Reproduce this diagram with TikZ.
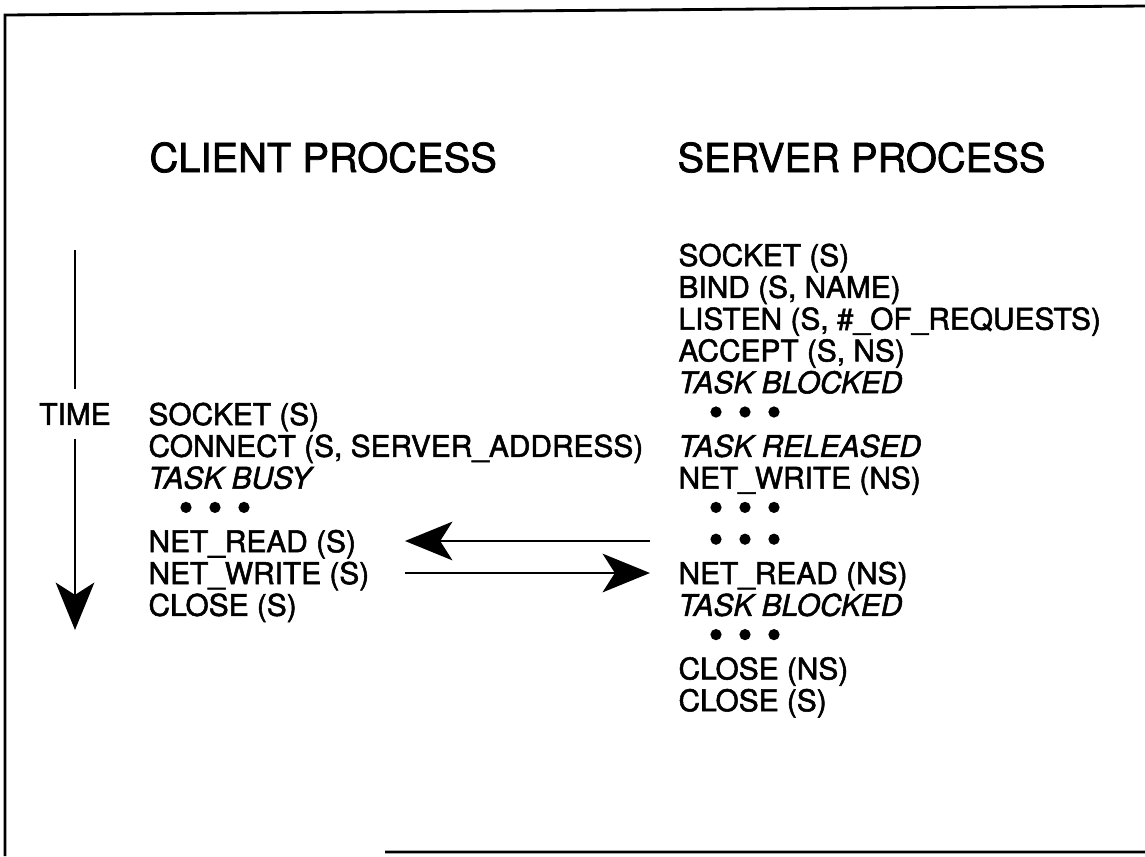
\documentclass[tikz,border=0pt]{standalone}
\usepackage{fontspec}
\setmainfont[FakeBold=1.8]{TeX Gyre Heros}
\usetikzlibrary{arrows.meta}

\begin{document}
\begin{tikzpicture}[x=0.02cm,y=-0.02cm,semithick,
  txt/.style={anchor=base west,inner sep=0pt,font=\fontsize{17}{18}\selectfont},
  head/.style={anchor=base west,inner sep=0pt,font=\fontsize{22.7}{24}\selectfont},
  big/.style={line width=1.1pt,-{Stealth[length=27pt,width=22pt,inset=7pt]}}]
\useasboundingbox (0,0) rectangle (1145,856);
% frame
\draw[line width=1.6pt] (1145,6) -- (5,15) -- (5,856) (385,852) -- (1145,852);
\node[head] (cli) at (149,172) {CLIENT PROCESS};
\node[head] (srv) at (677,172) {SERVER PROCESS};
% server side
\foreach \k/\t in {0/SOCKET (S),1/{BIND (S, NAME)},2/{LISTEN (S, \#\_OF\_REQUESTS)},
  3/{ACCEPT (S, NS)},4/\textit{TASK BLOCKED},6/\textit{TASK RELEASED},7/NET\_WRITE (NS),
  10/NET\_READ (NS),11/\textit{TASK BLOCKED},13/CLOSE (NS),14/CLOSE (S)}
  \node[txt] (s\k) at (678,{266+31.8*\k}) {\t};
% client side
\foreach \k/\t in {0/SOCKET (S),1/{CONNECT (S, SERVER\_ADDRESS)},2/\textit{TASK BUSY},
  4/NET\_READ (S),5/NET\_WRITE (S),6/CLOSE (S)}
  \node[txt] (c\k) at (148,{425+31.8*\k}) {\t};
% dots
\foreach \x/\k in {678/5,678/8,678/9,678/12,148/8}
  \foreach \dx in {38,67,96}
    \fill (\x+\dx,{253+31.8*\k}) circle (3.2pt);
% time axis
\node[font=\fontsize{17}{18}\selectfont,inner xsep=0pt,inner ysep=7.5pt] (time) at (75,414) {TIME};
\coordinate (t0) at (75,250);
\coordinate (t1) at (75,630);
\draw[big] (t0) -- (time) -- (t1);
% messages
\coordinate (rdS) at (650,541); \coordinate (rdC) at (405,541);
\coordinate (wrC) at (405,573); \coordinate (wrS) at (650,573);
\draw[big] (rdS) -- (rdC);
\draw[big] (wrC) -- (wrS);
\end{tikzpicture}
\end{document}
